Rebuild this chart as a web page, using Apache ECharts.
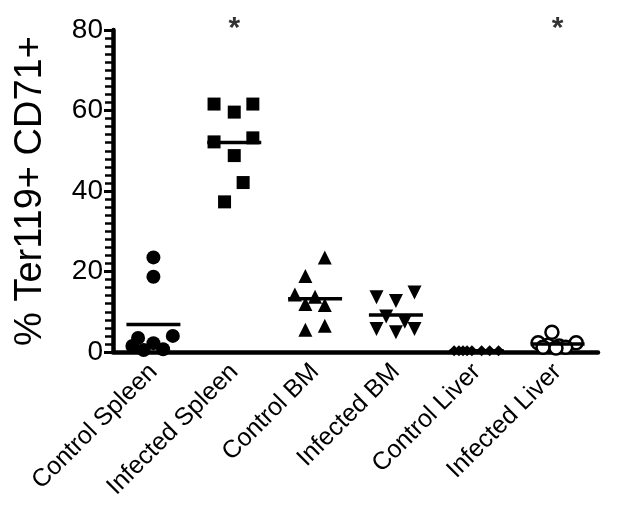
<!DOCTYPE html>
<html><head><meta charset="utf-8">
<script src="https://cdn.jsdelivr.net/npm/echarts@6/dist/echarts.min.js"></script>
<style>html,body{margin:0;padding:0;background:#fff}#c{width:617px;height:518px}</style>
</head><body><div id="c"></div>
<script>
const categories = ['Control Spleen','Infected Spleen','Control BM','Infected BM','Control Liver','Infected Liver'];
const yTicks = [0,20,40,60,80];
const controlSpleen   = [23.5,18.7,4.0,3.5,2.2,1.5,0.5,0.7];
const infectedSpleen  = [61.6,61.6,59.6,52.2,53.2,48.8,42.1,37.3];
const controlBM       = [23.5,18.9,14.3,13.7,11.9,11.7,5.5,6.5];
const infectedBM      = [14.8,13.6,12.7,8.8,7.5,5.7,4.9,5.7];
const controlLiver    = [0.3,0.3,0.3,0.3,0.3,0.3,0.3,0.3];
const infectedLiver   = [4.9,2.3,2.3,1.7,1.5,1.2,1.2,1.0];
// horizontal jitter within each column (fraction of a category slot)
const jitterControlSpleen  = [0,0,0.24,-0.19,0,-0.26,-0.12,0.12];
const jitterInfectedSpleen = [-0.25,0.23,0,-0.25,0.23,0,0.11,-0.12];
const jitterControlBM      = [0.12,-0.12,-0.25,0,-0.12,0.12,-0.12,0.12];
const jitterInfectedBM     = [0.23,-0.24,0,-0.12,0.11,-0.24,0,0.23];
const jitterControlLiver   = [-0.28,-0.22,-0.17,-0.12,-0.06,0.06,0.16,0.27];
const jitterInfectedLiver  = [-0.07,-0.24,0.23,-0.12,0.02,0.1,-0.18,-0.02];
const significant = ['Infected Spleen','Infected Liver'];

const groups = [
  {v:controlSpleen, j:jitterControlSpleen, symbol:'circle', size:14, rot:0, fill:'#000'},
  {v:infectedSpleen, j:jitterInfectedSpleen, symbol:'rect', size:13, rot:0, fill:'#000'},
  {v:controlBM, j:jitterControlBM, symbol:'triangle', size:14, rot:0, fill:'#000'},
  {v:infectedBM, j:jitterInfectedBM, symbol:'triangle', size:14, rot:180, fill:'#000'},
  {v:controlLiver, j:jitterControlLiver, symbol:'diamond', size:11, rot:0, fill:'#000'},
  {v:infectedLiver, j:jitterInfectedLiver, symbol:'circle', size:13, rot:0, fill:'#fff'}
];
const FONT = '"Liberation Sans", Arial, Helvetica, sans-serif';
const series = groups.map((g,i)=>({
  type:'scatter', xAxisIndex:1, yAxisIndex:0,
  symbol:g.symbol, symbolSize:g.size, symbolRotate:g.rot,
  itemStyle:{color:g.fill, opacity:1, borderColor:'#000', borderWidth: g.fill==='#fff'?2.5:0},
  data:g.v.map((v,k)=>[i+g.j[k], v]), z:3
}));
const means = groups.map((g,i)=>[i, g.v.reduce((a,b)=>a+b,0)/g.v.length]);
series.push({type:'scatter', xAxisIndex:1, symbol:'rect', symbolSize:[54,3.5],
  itemStyle:{color:'#000', opacity:1}, data:means, z:4, silent:true});
series.push({type:'scatter', xAxisIndex:1, symbolSize:0, clip:false,
  data:significant.map(c=>[categories.indexOf(c), 80]),
  label:{show:true, formatter:'*', position:'inside', offset:[0,-1], fontSize:30, fontWeight:'bold', color:'#000', fontFamily:FONT}});

const chart = echarts.init(document.getElementById('c'), null, {renderer:'canvas'});
chart.setOption({
  animation:false,
  backgroundColor:'#fff',
  grid:{left:113, right:19, top:30, bottom:166, containLabel:false},
  xAxis:[
    {type:'category', data:categories, boundaryGap:true,
     axisLine:{onZero:false, lineStyle:{color:'#000', width:4.5}},
     axisTick:{alignWithLabel:true, length:10, lineStyle:{color:'#000', width:4}},
     axisLabel:{rotate:45, margin:16, fontSize:25, color:'#000', fontFamily:FONT, interval:0},
     splitLine:{show:false}},
    {type:'value', min:-0.5, max:5.5, show:false}
  ],
  yAxis:{type:'value', min:0, max:80, interval:20,
    name:'% Ter119+ CD71+', nameLocation:'middle', nameGap:63, nameRotate:90,
    nameTextStyle:{fontSize:38, color:'#000', fontFamily:FONT},
    axisLine:{show:true, onZero:false, lineStyle:{color:'#000', width:4.5}},
    axisTick:{show:true, length:9, lineStyle:{color:'#000', width:3}},
    minorTick:{show:true, splitNumber:10, length:8, lineStyle:{color:'#000', width:2.5}},
    axisLabel:{fontSize:28, color:'#000', fontFamily:FONT, margin:10},
    splitLine:{show:false}},
  series
});
</script></body></html>
